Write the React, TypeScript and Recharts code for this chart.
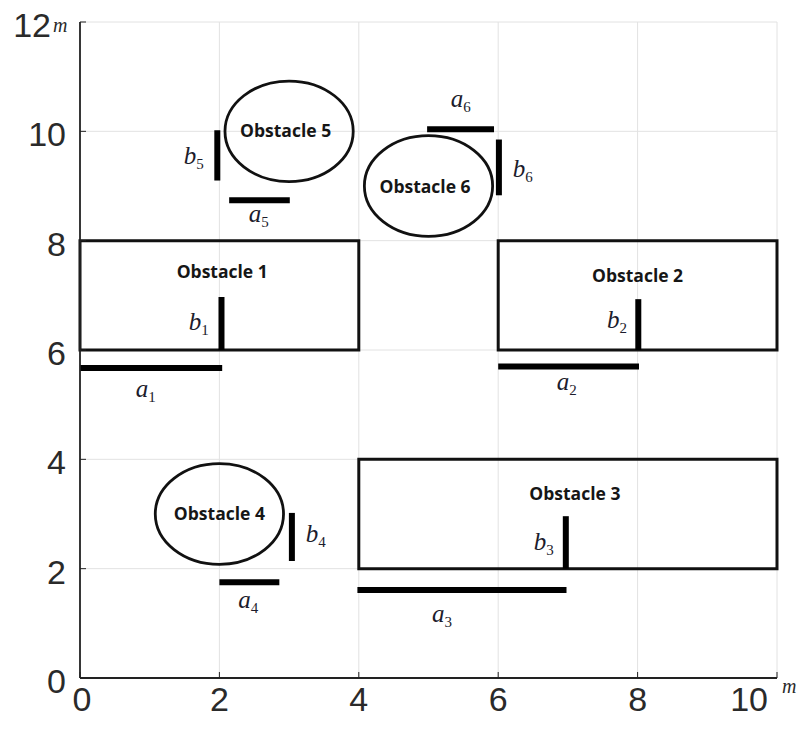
import React from "react";
import {
  ComposedChart,
  XAxis,
  YAxis,
  CartesianGrid,
  ReferenceArea,
  ReferenceLine,
  Scatter,
} from "recharts";

// axis ticks
const xTicks = [0, 2, 4, 6, 8, 10];
const yTicks = [0, 2, 4, 6, 8, 10, 12];

// rectangular obstacles (1, 2, 3)
const rectX1 = [0, 6, 4];
const rectX2 = [4, 10, 10];
const rectY1 = [6, 6, 2];
const rectY2 = [8, 8, 4];

// circular obstacles (4, 5, 6)
const circleCX = [2.0, 3.0, 5.0];
const circleCY = [3.0, 10.0, 9.0];
const circleR = [0.92, 0.92, 0.92];

// obstacle names and label positions
const obstacleNames = ["Obstacle 1", "Obstacle 2", "Obstacle 3", "Obstacle 4", "Obstacle 5", "Obstacle 6"];
const obstacleLabelX = [2.04, 8.0, 7.1, 2.0, 2.95, 4.95];
const obstacleLabelY = [7.42, 7.36, 3.36, 3.0, 10.0, 8.98];

// thick segments a_i (horizontal) and b_i (vertical)
const segNames = ["a1", "b1", "a2", "b2", "a3", "b3", "a4", "b4", "a5", "b5", "a6", "b6"];
const segX1 = [0, 2.03, 6.0, 8.01, 3.98, 6.97, 2.0, 3.04, 2.14, 1.97, 4.98, 6.01];
const segY1 = [5.67, 6.0, 5.7, 6.0, 1.61, 2.0, 1.75, 2.14, 8.74, 9.1, 10.04, 8.83];
const segX2 = [2.04, 2.03, 8.02, 8.01, 6.98, 6.97, 2.86, 3.04, 3.01, 1.97, 5.94, 6.01];
const segY2 = [5.67, 6.97, 5.7, 6.93, 1.61, 2.96, 1.75, 3.02, 8.74, 10.02, 10.04, 9.85];

// segment label letters, subscripts, positions (left edge, baseline)
const markLetters = ["a", "b", "a", "b", "a", "b", "a", "b", "a", "b", "a", "b"];
const markSubs = ["1", "1", "2", "2", "3", "3", "4", "4", "5", "5", "6", "6"];
const markLabelX = [0.8, 1.56, 6.84, 7.56, 5.05, 6.51, 2.27, 3.24, 2.42, 1.49, 5.32, 6.21];
const markLabelY = [5.14, 6.36, 5.27, 6.4, 1.02, 2.34, 1.28, 2.49, 8.34, 9.41, 10.44, 9.16];

const obstacleLabelData = obstacleNames.map((name, i) => ({
  x: obstacleLabelX[i],
  y: obstacleLabelY[i],
  name,
}));
const markLabelData = markLetters.map((letter, i) => ({
  x: markLabelX[i],
  y: markLabelY[i],
  letter,
  sub: markSubs[i],
}));

const TICK_COLOR = "#2a2a2a";
const SANS = "'Liberation Sans', Arial, sans-serif";
const SERIF = "'Liberation Serif', 'Times New Roman', serif";

const BottomTick = (props: any) => {
  const { x, y, payload } = props;
  const v = payload.value;
  return (
    <g>
      <line x1={x} y1={y} x2={x} y2={y - 6} stroke="#222" strokeWidth={1} />
      {v === 10 ? (
        <>
          <text x={x - 9} y={y + 33} textAnchor="end" fontFamily={SANS} fontSize={34} fill={TICK_COLOR}>
            {v}
          </text>
          <text x={x + 5} y={y + 15} fontFamily={SERIF} fontStyle="italic" fontSize={20} fill={TICK_COLOR}>
            m
          </text>
        </>
      ) : (
        <text x={x + (v === 0 ? 2 : 0)} y={y + 33} textAnchor="middle" fontFamily={SANS} fontSize={34} fill={TICK_COLOR}>
          {v}
        </text>
      )}
    </g>
  );
};

const LeftTick = (props: any) => {
  const { x, y, payload } = props;
  const v = payload.value;
  return (
    <g>
      <line x1={x} y1={y} x2={x + 6} y2={y} stroke="#222" strokeWidth={1} />
      {v === 12 ? (
        <>
          <text x={x - 29} y={y + 15} textAnchor="end" fontFamily={SANS} fontSize={34} fill={TICK_COLOR}>
            {v}
          </text>
          <text x={x - 27} y={y + 10} fontFamily={SERIF} fontStyle="italic" fontSize={20} fill={TICK_COLOR}>
            m
          </text>
        </>
      ) : (
        <text x={x - 14} y={y + 15} textAnchor="end" fontFamily={SANS} fontSize={34} fill={TICK_COLOR}>
          {v}
        </text>
      )}
    </g>
  );
};

const TopTick = (props: any) => {
  const { x, y } = props;
  return <line x1={x} y1={y} x2={x} y2={y + 6} stroke="#222" strokeWidth={1} />;
};

const RightTick = (props: any) => {
  const { x, y } = props;
  return <line x1={x} y1={y} x2={x - 6} y2={y} stroke="#222" strokeWidth={1} />;
};

const EllipseShape = (props: any) => {
  const { x, y, width, height } = props;
  return (
    <ellipse
      cx={x + width / 2}
      cy={y + height / 2}
      rx={Math.abs(width) / 2}
      ry={Math.abs(height) / 2}
      fill="none"
      stroke="#111"
      strokeWidth={2.8}
    />
  );
};

const ObstacleLabel = (props: any) => {
  const { cx, cy, payload } = props;
  return (
    <text
      x={cx}
      y={cy}
      dy="0.35em"
      textAnchor="middle"
      fontFamily="'Open Sans', 'Noto Sans', sans-serif"
      fontWeight={700}
      fontSize={17.5}
      fill="#161616"
    >
      {payload.name}
    </text>
  );
};

const MarkLabel = (props: any) => {
  const { cx, cy, payload } = props;
  return (
    <text x={cx} y={cy} fontFamily={SERIF} fill="#1c1c2c">
      <tspan fontStyle="italic" fontSize={25}>
        {payload.letter}
      </tspan>
      <tspan fontSize={15} dy={5}>
        {payload.sub}
      </tspan>
    </text>
  );
};

export default function App() {
  return (
    <div style={{ position: "absolute", left: 0, top: 0, background: "#fff" }}>
      <ComposedChart width={798} height={736} margin={{ top: 22, right: 21, bottom: 0, left: 0 }}>
        <CartesianGrid xAxisId="b" yAxisId="l" stroke="#e2e2e2" strokeWidth={1} />
        <XAxis
          xAxisId="b"
          dataKey="x"
          type="number"
          domain={[0, 10]}
          ticks={xTicks}
          allowDataOverflow
          height={58}
          tickSize={0}
          tickMargin={0}
          tickLine={false}
          axisLine={{ stroke: "#222", strokeWidth: 1.8 }}
          tick={<BottomTick />}
          interval={0}
        />
        <XAxis
          xAxisId="t"
          orientation="top"
          type="number"
          domain={[0, 10]}
          ticks={xTicks}
          allowDataOverflow
          height={0}
          tickSize={0}
          tickMargin={0}
          tickLine={false}
          axisLine={{ stroke: "#222", strokeWidth: 1.8 }}
          tick={<TopTick />}
          interval={0}
        />
        <YAxis
          yAxisId="l"
          dataKey="y"
          type="number"
          domain={[0, 12]}
          ticks={yTicks}
          allowDataOverflow
          width={80}
          tickSize={0}
          tickMargin={0}
          tickLine={false}
          axisLine={{ stroke: "#222", strokeWidth: 1.8 }}
          tick={<LeftTick />}
          interval={0}
        />
        <YAxis
          yAxisId="r"
          orientation="right"
          type="number"
          domain={[0, 12]}
          ticks={yTicks}
          allowDataOverflow
          width={0}
          tickSize={0}
          tickMargin={0}
          tickLine={false}
          axisLine={{ stroke: "#222", strokeWidth: 1.8 }}
          tick={<RightTick />}
          interval={0}
        />

        {rectX1.map((_, i) => (
          <ReferenceArea
            key={`rect-${i}`}
            xAxisId="b"
            yAxisId="l"
            x1={rectX1[i]}
            x2={rectX2[i]}
            y1={rectY1[i]}
            y2={rectY2[i]}
            fill="none"
            fillOpacity={0}
            stroke="#111"
            strokeWidth={3}
            ifOverflow="visible"
          />
        ))}

        {circleCX.map((_, i) => (
          <ReferenceArea
            key={`circ-${i}`}
            xAxisId="b"
            yAxisId="l"
            x1={circleCX[i] - circleR[i]}
            x2={circleCX[i] + circleR[i]}
            y1={circleCY[i] - circleR[i]}
            y2={circleCY[i] + circleR[i]}
            ifOverflow="visible"
            shape={<EllipseShape />}
          />
        ))}

        {segNames.map((name, i) => (
          <ReferenceLine
            key={`seg-${name}`}
            xAxisId="b"
            yAxisId="l"
            segment={[
              { x: segX1[i], y: segY1[i] },
              { x: segX2[i], y: segY2[i] },
            ]}
            stroke="#000"
            strokeWidth={6}
            ifOverflow="visible"
          />
        ))}

        <Scatter
          xAxisId="b"
          yAxisId="l"
          data={obstacleLabelData}
          isAnimationActive={false}
          shape={<ObstacleLabel />}
        />
        <Scatter
          xAxisId="b"
          yAxisId="l"
          data={markLabelData}
          isAnimationActive={false}
          shape={<MarkLabel />}
        />
      </ComposedChart>
    </div>
  );
}
